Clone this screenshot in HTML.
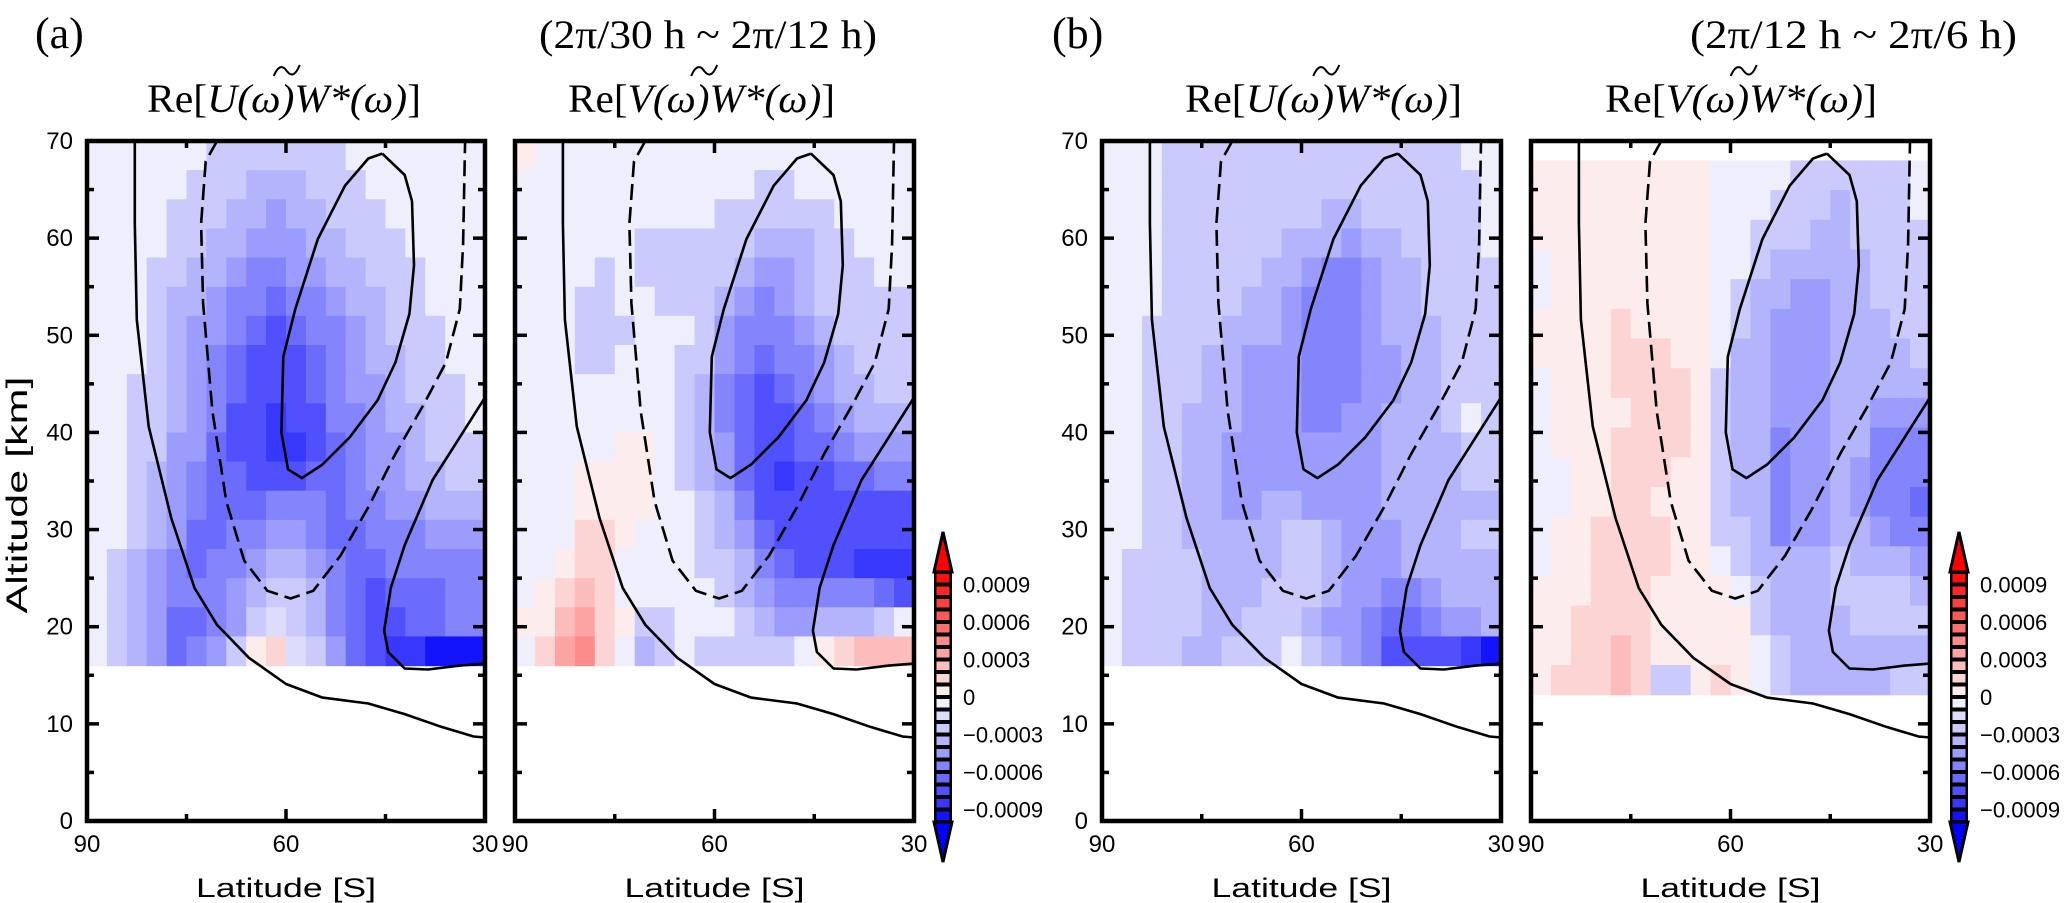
<!DOCTYPE html>
<html><head><meta charset="utf-8">
<style>
html,body{margin:0;padding:0;background:#fff;}
svg{display:block;}
</style></head>
<body>
<svg id="chart" width="2067" height="903" viewBox="0 0 2067 903" xmlns="http://www.w3.org/2000/svg">
<rect width="2067" height="903" fill="#fff"/>
<g id="heads" font-family="Liberation Serif, serif" fill="#000">
<text x="35" y="48" font-size="44">(a)</text>
<text x="539" y="48" font-size="40" textLength="338" lengthAdjust="spacingAndGlyphs">(2π/30 h ~ 2π/12 h)</text>
<text x="1052" y="48" font-size="44">(b)</text>
<text x="1690" y="48" font-size="40" textLength="327" lengthAdjust="spacingAndGlyphs">(2π/12 h ~ 2π/6 h)</text>
</g>
<g id="layer"></g>
</svg>
<script>
// ---------- data (units of 1e-4; negative = blue) ----------
const latStart = 90, latEnd = 30;
const altMin = 0, altMax = 70;
const yTicks = [0,10,20,30,40,50,60,70];
const xTickLabels = [90,60,30];
const cbarLabels = ["0.0009","0.0006","0.0003","0","\u22120.0003","\u22120.0006","\u22120.0009"];
const cbarValues = [9,6,3,0,-3,-6,-9];
const cbarLevels = [10,9,8,7,6,5,4,3,2,1,-1,-2,-3,-4,-5,-6,-7,-8,-9,-10];

const p1 = [
[-1,-1,-1,-1,-1,-1,-3,-3,-3,-3,-3,-3,-3,-1,-1,-1,-1,-1,-1,-1],
[-1,-1,-1,-1,-1,-3,-3,-3,-4,-4,-4,-3,-3,-3,-1,-1,-1,-1,-1,-1],
[-1,-1,-1,-1,-3,-3,-3,-4,-4,-5,-4,-4,-3,-3,-3,-1,-1,-1,-1,-1],
[-1,-1,-1,-1,-3,-3,-4,-4,-5,-5,-5,-4,-4,-3,-3,-3,-1,-1,-1,-1],
[-1,-1,-1,-3,-3,-4,-4,-5,-6,-6,-5,-5,-4,-4,-3,-3,-3,-1,-1,-1],
[-1,-1,-1,-3,-4,-4,-5,-6,-6,-7,-6,-6,-5,-4,-4,-3,-3,-1,-1,-1],
[-1,-1,-1,-3,-4,-5,-5,-6,-7,-8,-7,-6,-6,-5,-4,-3,-3,-3,-1,-1],
[-1,-1,-1,-3,-4,-5,-6,-7,-8,-8,-8,-7,-6,-5,-4,-4,-3,-3,-1,-1],
[-1,-1,-3,-3,-4,-5,-6,-7,-8,-8,-8,-7,-6,-5,-5,-4,-3,-3,-3,-1],
[-1,-1,-3,-3,-4,-5,-6,-8,-8,-9,-8,-8,-6,-6,-5,-4,-4,-3,-3,-1],
[-1,-1,-3,-3,-5,-5,-7,-8,-8,-9,-9,-8,-7,-6,-5,-5,-4,-3,-3,-3],
[-1,-1,-3,-4,-5,-6,-7,-7,-8,-8,-8,-7,-7,-6,-5,-5,-4,-4,-3,-3],
[-1,-1,-3,-4,-5,-6,-7,-7,-7,-6,-6,-6,-7,-6,-6,-5,-5,-4,-4,-4],
[-1,-1,-3,-4,-5,-7,-7,-6,-6,-5,-5,-6,-7,-7,-6,-6,-6,-5,-5,-5],
[-1,-3,-4,-5,-6,-7,-6,-6,-5,-4,-4,-5,-6,-7,-7,-6,-6,-6,-6,-6],
[-1,-3,-4,-5,-6,-6,-6,-5,-4,-3,-3,-4,-6,-7,-8,-7,-7,-7,-6,-6],
[-1,-3,-4,-5,-7,-7,-6,-5,-3,-2,-3,-4,-6,-7,-8,-8,-7,-7,-6,-6],
[-1,-3,-4,-5,-7,-6,-5,-3,1,2,-2,-3,-5,-7,-8,-9,-9,-10,-10,-10]];

const p2 = [
[1,-1,-1,-1,-1,-1,-1,-1,-1,-1,-1,-1,-1,-1,-1,-1,-1,-1,-1,-1],
[-1,-1,-1,-1,-1,-1,-1,-1,-1,-1,-1,-1,-3,-3,-1,-1,-1,-1,-1,-1],
[-1,-1,-1,-1,-1,-1,-1,-1,-1,-1,-3,-3,-3,-3,-3,-3,-1,-1,-1,-1],
[-1,-1,-1,-1,-1,-1,-3,-3,-3,-3,-3,-3,-4,-4,-4,-3,-3,-1,-1,-1],
[-1,-1,-1,-1,-3,-1,-3,-3,-3,-3,-3,-4,-5,-5,-4,-3,-3,-3,-1,-1],
[-1,-1,-1,-3,-3,-1,-1,-3,-3,-3,-4,-5,-6,-5,-4,-3,-3,-3,-3,-3],
[-1,-1,-1,-3,-3,-3,-1,-1,-1,-3,-5,-6,-6,-6,-5,-4,-3,-3,-3,-3],
[-1,-1,-1,-3,-3,-1,-1,-1,-3,-3,-5,-6,-7,-6,-6,-5,-4,-3,-3,-3],
[-1,-1,-1,-1,-1,-1,-1,-1,-3,-4,-6,-7,-8,-7,-6,-5,-4,-4,-3,-3],
[-1,-1,-1,-1,-1,-1,-1,-1,-3,-4,-6,-7,-8,-8,-7,-6,-5,-4,-4,-4],
[-1,-1,-1,-1,-1,1,1,-1,-3,-4,-5,-7,-8,-8,-7,-7,-6,-5,-5,-5],
[-1,-1,-1,1,1,1,1,-1,-3,-4,-5,-7,-8,-9,-8,-8,-7,-7,-6,-6],
[-1,-1,-1,1,1,1,1,-1,-1,-3,-4,-6,-8,-8,-8,-8,-8,-8,-8,-8],
[-1,-1,-1,2,2,1,-1,-1,-1,-3,-4,-5,-7,-8,-8,-8,-8,-8,-8,-8],
[-1,-1,1,2,2,-1,-1,-1,-1,-3,-3,-4,-6,-7,-8,-8,-8,-9,-9,-9],
[-1,1,2,3,2,-1,-1,-1,-1,-1,-3,-4,-5,-6,-6,-6,-6,-6,-7,-8],
[1,1,3,4,2,1,-3,-3,-1,-1,-1,-3,-4,-5,-5,-4,-4,-4,-3,-1],
[-1,2,4,5,2,-1,-4,-3,-1,-3,-3,-3,-3,-3,-1,1,2,3,3,3]];

const p3 = [
[-1,-1,-1,-3,-3,-3,-3,-3,-3,-3,-3,-3,-3,-3,-3,-3,-3,-3,-1,-1],
[-1,-1,-1,-3,-3,-3,-3,-3,-3,-3,-3,-3,-3,-3,-3,-3,-3,-3,-3,-1],
[-1,-1,-1,-3,-3,-3,-3,-3,-3,-3,-3,-4,-4,-3,-3,-3,-3,-3,-3,-1],
[-1,-1,-1,-3,-3,-3,-3,-3,-3,-4,-4,-4,-5,-4,-4,-3,-3,-3,-3,-1],
[-1,-1,-1,-3,-3,-3,-3,-3,-4,-4,-5,-6,-6,-5,-4,-4,-3,-3,-3,-3],
[-1,-1,-1,-3,-3,-3,-3,-4,-4,-5,-6,-6,-6,-5,-4,-4,-3,-3,-3,-3],
[-1,-1,-3,-3,-3,-3,-4,-4,-4,-5,-6,-6,-6,-5,-4,-4,-4,-3,-3,-3],
[-1,-1,-3,-3,-3,-4,-4,-5,-5,-5,-6,-6,-6,-5,-5,-4,-4,-3,-3,-3],
[-1,-1,-3,-3,-3,-4,-4,-5,-5,-5,-6,-6,-6,-5,-5,-4,-4,-3,-3,-3],
[-1,-1,-3,-3,-4,-4,-4,-5,-5,-5,-6,-6,-5,-5,-4,-4,-4,-3,-1,-3],
[-1,-1,-3,-3,-4,-4,-5,-5,-5,-5,-5,-5,-5,-5,-4,-4,-4,-4,-3,-3],
[-1,-1,-3,-3,-4,-4,-5,-5,-5,-5,-5,-5,-5,-5,-4,-4,-4,-4,-3,-3],
[-1,-1,-3,-3,-4,-4,-5,-5,-4,-4,-5,-5,-5,-5,-4,-4,-4,-4,-4,-4],
[-1,-1,-3,-3,-4,-4,-4,-4,-4,-3,-3,-4,-5,-5,-5,-4,-4,-4,-3,-3],
[-1,-3,-3,-3,-3,-4,-4,-4,-4,-3,-3,-4,-5,-5,-5,-4,-4,-4,-4,-4],
[-1,-3,-3,-3,-3,-4,-4,-4,-3,-3,-3,-4,-5,-5,-6,-6,-5,-4,-4,-4],
[-1,-3,-3,-3,-3,-4,-4,-3,-3,-3,-4,-5,-5,-6,-7,-7,-6,-5,-5,-4],
[-1,-3,-3,-3,-4,-4,-3,-3,-3,-1,-3,-4,-5,-6,-8,-8,-8,-8,-9,-10]];

const p4 = [
[1,1,1,1,1,1,1,1,1,-1,-1,-1,-1,-3,-3,-3,-3,-3,-3,-1],
[1,1,1,1,1,1,1,1,1,-1,-1,-1,-3,-3,-3,-4,-3,-3,-3,-1],
[1,1,1,1,1,1,1,1,1,-1,-1,-3,-3,-3,-4,-4,-3,-3,-3,-3],
[-1,1,1,1,1,1,1,1,1,-1,-1,-3,-4,-4,-4,-4,-4,-3,-3,-3],
[-1,1,1,1,1,1,1,1,1,-1,-3,-4,-4,-5,-5,-4,-4,-3,-3,-3],
[1,1,1,1,2,1,1,1,1,-1,-3,-4,-5,-5,-5,-4,-4,-4,-3,-3],
[1,1,1,1,2,2,2,1,1,-1,-4,-4,-5,-5,-5,-4,-4,-4,-4,-3],
[-1,1,1,1,2,2,2,2,1,-3,-4,-4,-5,-5,-5,-4,-4,-4,-4,-4],
[-1,1,1,1,1,2,2,2,1,-3,-4,-4,-5,-5,-5,-4,-4,-5,-5,-5],
[-1,1,1,1,2,2,2,2,1,-3,-4,-4,-6,-5,-5,-4,-4,-6,-6,-6],
[-1,-1,1,1,2,2,2,1,1,-3,-4,-4,-6,-5,-5,-4,-5,-6,-6,-6],
[-1,-1,1,1,2,2,1,1,1,-3,-4,-4,-6,-5,-5,-4,-5,-6,-6,-7],
[-1,1,1,2,2,2,2,1,1,-3,-3,-4,-6,-5,-5,-4,-4,-5,-6,-6],
[-1,1,1,2,2,2,2,1,1,-1,-3,-4,-4,-4,-4,-3,-4,-4,-4,-5],
[1,1,1,2,2,2,1,1,1,1,-1,-3,-4,-4,-4,-3,-3,-3,-3,-4],
[1,1,2,2,2,2,1,1,1,1,1,-3,-4,-4,-4,-4,-3,-3,-3,-3],
[1,1,2,2,3,2,1,1,1,1,1,-1,-3,-4,-4,-4,-4,-4,-4,-4],
[1,2,2,2,3,2,-3,-3,1,2,1,-1,-3,-4,-4,-4,-4,-4,-3,-3]];

// contours (lat, alt)
const cALat = [82.8,82.8,82.5,80.7,77.3,73.8,70.4,65.6,60.0,54.5,47.6,42.1,36.6,31.7,30];
const cAAlt = [70,61.5,51.6,40.6,31.2,24.0,20.2,16.8,14.1,12.7,12.1,11.0,9.7,8.7,8.6];
const cBLat = [70.4,72.1,72.8,72.5,71.1,69.0,66.3,62.8,59.3,55.9,51.8,47.6,43.5,39.3,35.9,33.8,33.3,33.0];
const cBAlt = [70,67.9,61.5,53.3,42.2,32.9,26.8,23.7,22.9,23.7,27.3,32.3,37.8,42.8,47.2,52.7,59.4,70];
const cCLat = [45.5,42.1,41.0,40.7,41.4,43.5,46.2,50.4,54.5,57.6,59.7,60.7,60.4,58.6,55.2,51.1,47.6,45.5];
const cCAlt = [68.7,66.5,63.8,57.2,52.2,47.2,43.3,39.5,36.7,35.3,36.2,40.0,47.8,52.7,59.9,65.4,68.2,68.7];
const cDLat = [30,33.8,37.9,42.1,44.2,45.2,44.6,42.1,38.6,33.8,30];
const cDAlt = [43.6,39.5,35.1,28.4,24.0,19.6,17.4,15.7,15.6,16.0,16.2];

const panels = [
 {name:'panel-a-u', x0:87, x1:485, data:p1, top:70, bot:16, yl:true, title:['U','W'], tx:147, tw:274, cb:null},
 {name:'panel-a-v', x0:515, x1:914, data:p2, top:70, bot:16, yl:false, title:['V','W'], tx:568, tw:267, cb:{x:934,lx:963}},
 {name:'panel-b-u', x0:1102, x1:1501, data:p3, top:70, bot:16, yl:true, title:['U','W'], tx:1185, tw:277, cb:null},
 {name:'panel-b-v', x0:1531, x1:1930, data:p4, top:68, bot:13, yl:false, title:['V','W'], tx:1605, tw:272, cb:{x:1950,lx:1980}}
];
const Y0 = 821, Y1 = 141;

const blues = ['#eeeefc','#dcdcfc','#cacafc','#b4b4fc','#9c9cfc','#8484fc','#6c6cfc','#5050fc','#3838fc','#1414fc'];
const reds  = ['#fdecec','#fcd4d4','#fcbcbc','#fca4a4','#fc8c8c','#fc7070','#fc5858','#fc4040','#fc2828','#fc1010'];
function color(v){ const n=Math.min(10,Math.max(1,Math.round(Math.abs(v)))); return v<0?blues[n-1]:reds[n-1]; }

const NS='http://www.w3.org/2000/svg';
const layer=document.getElementById('layer');
function mk(tag,attrs,parent){const e=document.createElementNS(NS,tag);for(const k in attrs)e.setAttribute(k,attrs[k]);(parent||layer).appendChild(e);return e;}

panels.forEach(p=>{
  const g=mk('g',{});
  
  
  const xs=lat=>p.x0+(latStart-lat)/(latStart-latEnd)*(p.x1-p.x0);
  const ys=alt=>Y0-(alt-altMin)/(altMax-altMin)*(Y0-Y1);
  const hm=mk('g',{},g);
  
  
  const nr=p.data.length, nc=p.data[0].length;
  const dLat=(latStart-latEnd)/nc, dAlt=(p.top-p.bot)/nr;
  p.data.forEach((row,r)=>row.forEach((v,c)=>{
    const la=latStart-c*dLat, al=p.top-r*dAlt;
    const xa=xs(la), xb=xs(la-dLat), ya=ys(al), yb=ys(al-dAlt);
    const cell=mk('rect',{x:xa.toFixed(2),y:ya.toFixed(2),width:(xb-xa+0.6).toFixed(2),height:(yb-ya+0.6).toFixed(2),fill:color(v)},hm);
    
    
  }));
  const clip='clip-'+p.name;
  const cp=mk('clipPath',{id:clip},g); mk('rect',{x:p.x0,y:Y1,width:p.x1-p.x0,height:Y0-Y1},cp);
  const cg=mk('g',{'clip-path':'url(#'+clip+')',fill:'none',stroke:'#000','stroke-width':2.6},g);
  function line(la,al,dash,nm){
    const d=la.map((L,i)=>(i?'L':'M')+xs(L).toFixed(1)+','+ys(al[i]).toFixed(1)).join(' ');
    const pa=mk('path',{d:d,'stroke-linejoin':'round'},cg);
    if(dash) pa.setAttribute('stroke-dasharray','16 7');
    
    
  }
  line(cALat,cAAlt,false,'contour-outer-solid');
  line(cBLat,cBAlt,true,'contour-dashed');
  line(cCLat,cCAlt,false,'contour-inner-loop');
  line(cDLat,cDAlt,false,'contour-lower-right');
  const tg=mk('g',{stroke:'#000','stroke-width':3.5},g);
  for(let a=0;a<=70;a+=5){const y=ys(a),L=(a%10===0)?12:7;
    mk('line',{x1:p.x0,y1:y,x2:p.x0+L,y2:y},tg);mk('line',{x1:p.x1,y1:y,x2:p.x1-L,y2:y},tg);}
  for(let la=90;la>=30;la-=15){const x=xs(la),L=(la%30===0)?12:7;
    mk('line',{x1:x,y1:Y0,x2:x,y2:Y0-L},tg);mk('line',{x1:x,y1:Y1,x2:x,y2:Y1+L},tg);}
  const fr=mk('rect',{x:p.x0,y:Y1,width:p.x1-p.x0,height:Y0-Y1,fill:'none',stroke:'#000','stroke-width':4.5},g);
  
  
  const font='Liberation Sans, DejaVu Sans, sans-serif';
  xTickLabels.forEach(la=>{
    const t=mk('text',{x:xs(la),y:852,'font-family':font,'font-size':24,'text-anchor':'middle'},g); t.textContent=la;
    
    
  });
  if(p.yl){ yTicks.forEach(a=>{
    const t=mk('text',{x:p.x0-14,y:ys(a)+8,'font-family':font,'font-size':24,'text-anchor':'end'},g); t.textContent=a;
    
    
  });}
  const xl=mk('text',{x:(p.x0+p.x1)/2,y:897,'font-family':font,'font-size':27,'text-anchor':'middle',textLength:180,lengthAdjust:'spacingAndGlyphs'},g);
  xl.textContent='Latitude [S]';
  
  
  const tt=mk('text',{x:p.tx,y:112,'font-family':'Liberation Serif, serif','font-size':40,textLength:p.tw,lengthAdjust:'spacingAndGlyphs'},g);
  
  
  const s1=mk('tspan',{},tt); s1.textContent='Re[';
  const s2=mk('tspan',{'font-style':'italic'},tt); s2.textContent=p.title[0]+'(ω)'+p.title[1]+'*(ω)';
  const s3=mk('tspan',{},tt); s3.textContent=']';
  const cx=p.tx+0.51*p.tw;
  const tl=mk('path',{d:`M${cx-13},76 C${cx-8},64 ${cx-3},66 ${cx},71 C${cx+4},76 ${cx+8},77 ${cx+13},65`,fill:'none',stroke:'#000','stroke-width':2},g);
  
  
  if(p.cb){
    const cb=mk('g',{},g);
    
    
    const bx=p.cb.x, bw=18, cbTop=572, cbBot=822, step=(cbBot-cbTop)/cbarLevels.length;
    const cy=v=>697-v*12.5;
    mk('polygon',{points:`${bx},${cbTop} ${bx+bw/2},${cbTop-40} ${bx+bw},${cbTop}`,fill:'#ff0000',stroke:'#000','stroke-width':3},cb);
    mk('polygon',{points:`${bx},${cbBot} ${bx+bw/2},${cbBot+40} ${bx+bw},${cbBot}`,fill:'#0000ff',stroke:'#000','stroke-width':3},cb);
    mk('rect',{x:bx,y:cbTop,width:bw,height:cbBot-cbTop,fill:'#000'},cb);
    cbarLevels.forEach((v,i)=>{
      const b=mk('rect',{x:bx+2.5,y:(cbTop+i*step+2).toFixed(1),width:bw-5,height:(step-4).toFixed(1),fill:color(v)},cb);
      
      
    });
    cbarLabels.forEach((s,i)=>{
      const t=mk('text',{x:p.cb.lx,y:cy(cbarValues[i])+8,'font-family':font,'font-size':22},cb); t.textContent=s;
      
      
    });
  }
});
const yt=mk('text',{x:0,y:0,'font-family':'Liberation Sans, DejaVu Sans, sans-serif','font-size':30,'text-anchor':'middle',textLength:237,lengthAdjust:'spacingAndGlyphs',transform:'translate(27,495) rotate(-90)'});
yt.textContent='Altitude [km]';


</script>
</body></html>
